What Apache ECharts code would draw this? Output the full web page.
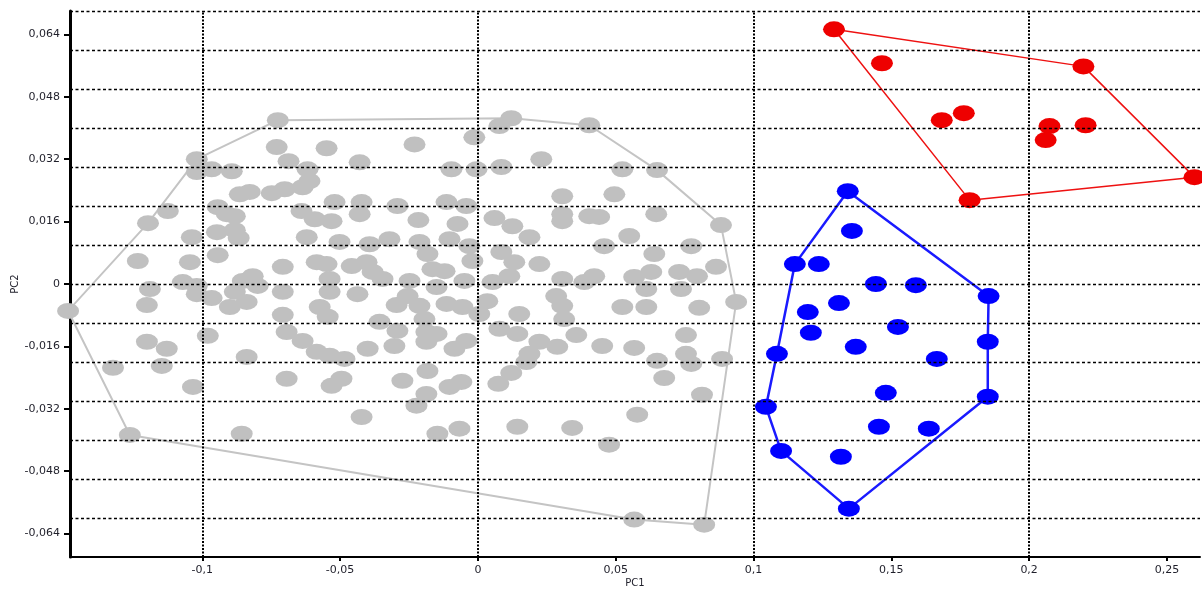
<!DOCTYPE html>
<html>
<head>
<meta charset="utf-8">
<script src="https://cdn.jsdelivr.net/npm/echarts@6/dist/echarts.min.js"></script>
<style>
html,body{margin:0;padding:0;background:#fff;}
#chart{width:1202px;height:592px;}
</style>
</head>
<body>
<div id="chart"></div>
<script>
// ---- Data (PC1, PC2) ----
const grayHull = [
  [-0.1487,-0.0069],[-0.1197,0.0156],[-0.1020,0.0320],[-0.0726,0.0420],[0.0121,0.0425],
  [0.0404,0.0407],[0.0650,0.0292],[0.0882,0.0151],[0.0937,-0.0046],[0.0821,-0.0617],
  [0.0567,-0.0604],[-0.1263,-0.0387]
];
const grayInner = [
  [-0.0730,0.0351],[-0.0687,0.0315],[-0.1020,0.0287],[-0.0966,0.0294],[-0.0893,0.0289],
  [-0.0864,0.0230],[-0.0828,0.0236],[-0.0748,0.0233],[-0.0701,0.0243],[-0.1125,0.0187],
  [-0.0944,0.0197],[-0.0911,0.0179],[-0.0882,0.0174],[-0.1038,0.0120],[-0.0947,0.0133],
  [-0.0882,0.0138],[-0.0868,0.0118],[-0.0944,0.0074],[-0.1234,0.0059],[-0.1045,0.0056],
  [-0.0708,0.0044],[-0.1071,0.0005],[-0.1020,-0.0005],[-0.0853,0.0008],[-0.0817,0.0020],
  [-0.0799,-0.0005],[-0.1190,-0.0013],[-0.1020,-0.0026],[-0.0966,-0.0036],[-0.0882,-0.0020],
  [-0.0839,-0.0046],[-0.0900,-0.0059],[-0.1201,-0.0054],[-0.0708,-0.0020],[-0.0708,-0.0079],
  [0.0078,0.0405],[-0.0013,0.0376],[-0.0230,0.0358],[-0.0549,0.0348],[-0.0618,0.0294],
  [-0.0429,0.0312],[-0.0096,0.0294],[-0.0005,0.0294],[0.0085,0.0300],[-0.0636,0.0248],
  [-0.0611,0.0264],[-0.0520,0.0210],[-0.0422,0.0210],[-0.0292,0.0200],[-0.0114,0.0210],
  [-0.0042,0.0200],[-0.0640,0.0187],[-0.0592,0.0166],[-0.0531,0.0161],[-0.0429,0.0179],
  [-0.0216,0.0164],[-0.0074,0.0154],[0.0060,0.0169],[0.0125,0.0148],[-0.0621,0.0120],
  [-0.0502,0.0108],[-0.0393,0.0102],[-0.0321,0.0115],[-0.0212,0.0108],[-0.0103,0.0115],
  [-0.0031,0.0097],[-0.0183,0.0077],[-0.0020,0.0059],[0.0085,0.0082],[0.0132,0.0056],
  [-0.0585,0.0056],[-0.0549,0.0051],[-0.0458,0.0046],[-0.0404,0.0056],[-0.0382,0.0031],
  [-0.0346,0.0013],[-0.0538,0.0013],[-0.0538,-0.0020],[-0.0437,-0.0026],[-0.0248,0.0008],
  [-0.0165,0.0038],[-0.0121,0.0033],[-0.0049,0.0008],[-0.0150,-0.0008],[0.0053,0.0005],
  [0.0114,0.0020],[-0.0574,-0.0059],[-0.0545,-0.0084],[-0.0295,-0.0054],[-0.0255,-0.0031],
  [-0.0212,-0.0056],[-0.0114,-0.0051],[-0.0056,-0.0059],[0.0005,-0.0077],[0.0034,-0.0044],
  [-0.0194,-0.0090],[0.0230,0.0320],[0.0524,0.0294],[0.0306,0.0225],[0.0495,0.0230],
  [0.0306,0.0179],[0.0306,0.0161],[0.0404,0.0174],[0.0440,0.0172],[0.0647,0.0179],
  [0.0187,0.0120],[0.0549,0.0123],[0.0458,0.0097],[0.0774,0.0097],[0.0640,0.0077],
  [0.0223,0.0051],[0.0422,0.0020],[0.0386,0.0005],[0.0306,0.0013],[0.0567,0.0018],
  [0.0629,0.0031],[0.0730,0.0031],[0.0795,0.0020],[0.0864,0.0044],[0.0611,-0.0013],
  [0.0737,-0.0013],[0.0284,-0.0031],[0.0306,-0.0056],[0.0524,-0.0059],[0.0611,-0.0059],
  [0.0803,-0.0061],[0.0150,-0.0077],[0.0313,-0.0090],[0.0143,-0.0128],[0.0223,-0.0148],
  [0.0357,-0.0131],[0.0288,-0.0161],[0.0451,-0.0159],[0.0567,-0.0164],[0.0187,-0.0179],
  [0.0176,-0.0200],[0.0650,-0.0197],[0.0755,-0.0179],[0.0755,-0.0131],[0.0774,-0.0205],
  [0.0886,-0.0192],[0.0676,-0.0241],[0.0813,-0.0284],[0.0578,-0.0335],[0.0143,-0.0366],
  [0.0342,-0.0369],[0.0476,-0.0412],[0.0121,-0.0228],[0.0074,-0.0256],
  [-0.1201,-0.0148],[-0.1129,-0.0166],[-0.1147,-0.0210],[-0.1324,-0.0215],[-0.0980,-0.0133],
  [-0.0839,-0.0187],[-0.1034,-0.0264],[-0.0857,-0.0384],[-0.0694,-0.0243],[-0.0694,-0.0123],
  [-0.0357,-0.0097],[-0.0292,-0.0120],[-0.0187,-0.0123],[-0.0150,-0.0128],[-0.0187,-0.0148],
  [-0.0042,-0.0146],[-0.0085,-0.0166],[0.0078,-0.0115],[-0.0636,-0.0146],[-0.0585,-0.0174],
  [-0.0538,-0.0184],[-0.0484,-0.0192],[-0.0400,-0.0166],[-0.0303,-0.0159],[-0.0531,-0.0261],
  [-0.0495,-0.0243],[-0.0274,-0.0248],[-0.0183,-0.0223],[-0.0060,-0.0251],[-0.0103,-0.0264],
  [-0.0187,-0.0282],[-0.0223,-0.0312],[-0.0422,-0.0341],[-0.0147,-0.0384],[-0.0067,-0.0371]
];
const blueHull = [
  [0.1342,0.0238],[0.1853,-0.0031],[0.1850,-0.0148],[0.1850,-0.0289],[0.1346,-0.0576],
  [0.1100,-0.0428],[0.1045,-0.0315],[0.1085,-0.0179],[0.1150,0.0051]
];
const blueInner = [
  [0.1357,0.0136],[0.1237,0.0051],[0.1444,0.0000],[0.1589,-0.0003],[0.1310,-0.0049],
  [0.1197,-0.0072],[0.1524,-0.0110],[0.1208,-0.0125],[0.1371,-0.0161],[0.1665,-0.0192],
  [0.1480,-0.0279],[0.1455,-0.0366],[0.1636,-0.0371],[0.1317,-0.0443]
];
const redHull = [
  [0.1292,0.0653],[0.2197,0.0558],[0.2600,0.0274],[0.1784,0.0215]
];
const redInner = [
  [0.1466,0.0566],[0.1683,0.0420],[0.1763,0.0438],[0.2074,0.0405],[0.2060,0.0369],[0.2205,0.0407]
];
const xTickValues = [-0.1,-0.05,0,0.05,0.1,0.15,0.2,0.25];
const yTickValues = [-0.064,-0.048,-0.032,-0.016,0,0.016,0.032,0.048,0.064];
const xGridValues = [-0.1,0,0.1,0.2];
const yGridValues = [-0.06,-0.05,-0.04,-0.03,-0.02,-0.01,0,0.01,0.02,0.03,0.04,0.05,0.06,0.07];

// ---- Chart ----
const fmt = v => (Math.abs(v) < 1e-9 ? '0' : String(+v.toFixed(3)).replace('.', ','));
const closed = arr => arr.concat([arr[0]]);
const FONT = '"DejaVu Sans", Verdana, sans-serif';
const TXT = '#1f1f2a';

const gridLines = []
  .concat(xGridValues.map(v => ({ xAxis: v, lineStyle: { color: '#000', width: 2, type: [2, 1.5] } })))
  .concat(yGridValues.map(v => ({ yAxis: v, lineStyle: { color: '#000', width: 1.4, type: [3, 2.5] } })));

const sym = [22, 16];
function hullSeries(data, color, width) {
  return { type: 'line', data: closed(data), symbol: 'none', showSymbol: false, clip: false,
    silent: true, z: 3, lineStyle: { color: color, width: width }, animation: false };
}
function scatterSeries(data, color) {
  return { type: 'scatter', data: data, symbol: 'circle', symbolSize: sym, clip: false,
    silent: true, z: 4, itemStyle: { color: color, opacity: 1 }, animation: false };
}

const chart = echarts.init(document.getElementById('chart'), null, { renderer: 'canvas' });
chart.setOption({
  animation: false,
  backgroundColor: '#fff',
  grid: { left: 70, right: 2, top: 11, bottom: 35, containLabel: false, outerBoundsMode: 'none' },
  xAxis: {
    type: 'value', min: -0.148, max: 0.262,
    name: 'PC1', nameLocation: 'middle', nameGap: 21, nameMoveOverlap: false,
    nameTextStyle: { fontFamily: FONT, fontSize: 10, color: TXT },
    axisLine: { show: true, onZero: false, lineStyle: { color: '#000', width: 2 } },
    axisTick: { show: true, customValues: xTickValues, length: 4, lineStyle: { color: '#000', width: 2 } },
    axisLabel: { customValues: xTickValues, formatter: fmt, margin: 8, fontFamily: FONT, fontSize: 11, color: TXT },
    splitLine: { show: false }
  },
  yAxis: {
    type: 'value', min: -0.07, max: 0.07,
    name: 'PC2', nameLocation: 'middle', nameGap: 50, nameMoveOverlap: false,
    nameTextStyle: { fontFamily: FONT, fontSize: 10, color: TXT },
    axisLine: { show: true, onZero: false, lineStyle: { color: '#000', width: 3 } },
    axisTick: { show: true, customValues: yTickValues, length: 6, lineStyle: { color: '#000', width: 2 } },
    axisLabel: { customValues: yTickValues, formatter: fmt, margin: 10, fontFamily: FONT, fontSize: 11, color: TXT },
    splitLine: { show: false }
  },
  series: [
    { type: 'line', data: [], silent: true, z: 1, animation: false,
      markLine: { silent: true, symbol: ['none', 'none'], label: { show: false }, animation: false,
        emphasis: { disabled: true }, data: gridLines } },
    hullSeries(grayHull, '#c4c4c4', 2),
    scatterSeries(grayHull.concat(grayInner), '#c0c0c0'),
    hullSeries(blueHull, '#1a1aff', 2.5),
    scatterSeries(blueHull.concat(blueInner), '#0000ff'),
    hullSeries(redHull, '#ee1111', 1.5),
    scatterSeries(redHull.concat(redInner), '#ee0000')
  ]
});
</script>
</body>
</html>
